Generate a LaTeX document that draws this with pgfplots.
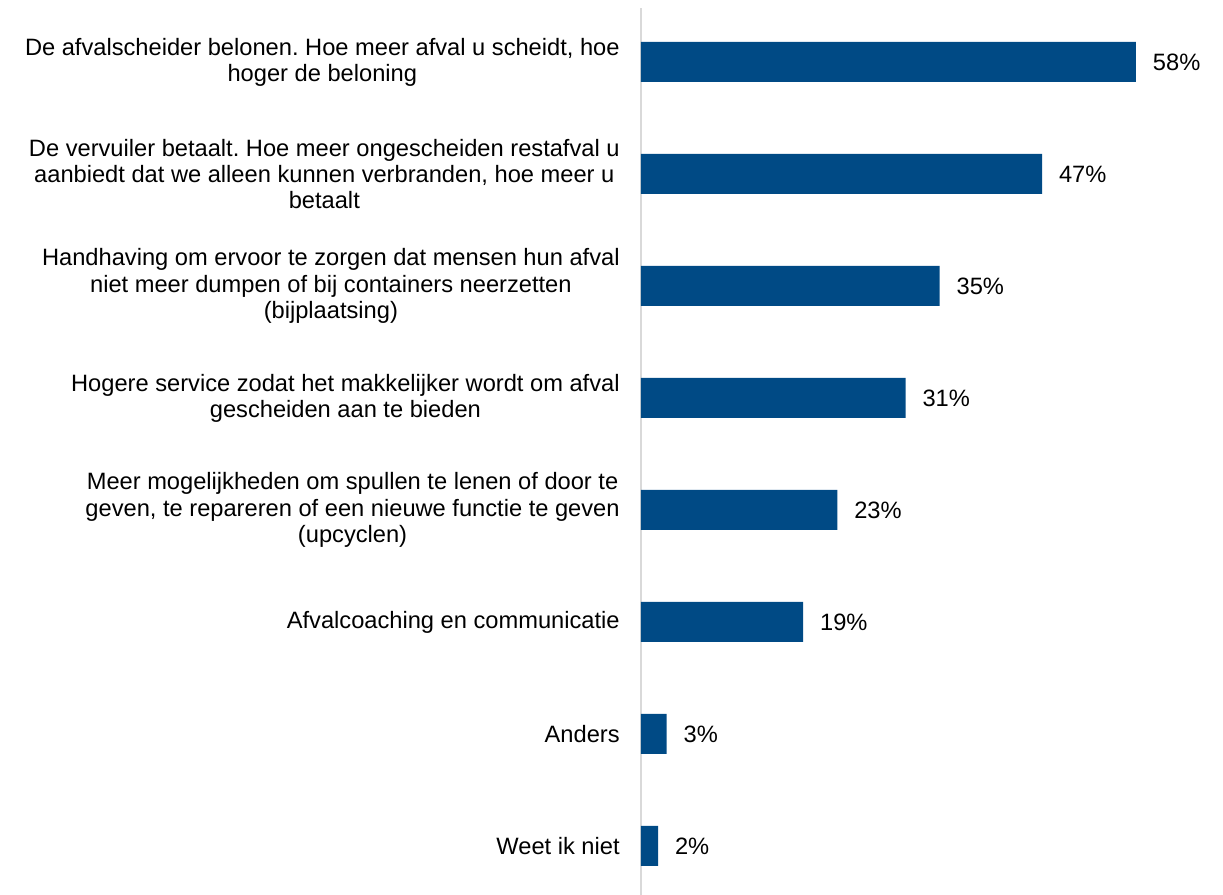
\documentclass[border=0pt]{standalone}
\usepackage{fontspec}
\setmainfont{Liberation Sans}
\usepackage{pgfplots}
\pgfplotsset{compat=1.18}
\definecolor{barblue}{HTML}{004A85}
\definecolor{axgray}{HTML}{D9D9D9}
\frenchspacing
\begin{document}
\begin{tikzpicture}
\useasboundingbox (-384.6pt,4.8pt) rectangle (349.2pt,-532.2pt);
\begin{axis}[
  at={(0,0)}, anchor=north west,
  scale only axis, width=349.2pt, height=532.2pt,
  xbar, bar width=24pt,
  xmin=0, xmax=68.2,
  ymin=-0.482, ymax=7.438, y dir=reverse,
  axis x line=none, axis y line=left,
  y axis line style={draw=axgray, line width=1.2pt, -},
  ytick={0,...,7}, major tick length=0pt,
  yticklabels={
    {De afvalscheider belonen. Hoe meer afval u scheidt, hoe\\hoger de beloning},
    {De vervuiler betaalt. Hoe meer ongescheiden restafval u\\aanbiedt dat we alleen kunnen verbranden, hoe meer u\\betaalt},
    {Handhaving om ervoor te zorgen dat mensen hun afval\\niet meer dumpen of bij containers neerzetten\\(bijplaatsing)},
    {Hogere service zodat het makkelijker wordt om afval\\gescheiden aan te bieden},
    {Meer mogelijkheden om spullen te lenen of door te\\geven, te repareren of een nieuwe functie te geven\\(upcyclen)},
    {Afvalcoaching en communicatie},
    {Anders},
    {Weet ik niet}},
  yticklabel style={align=center, font=\fontsize{14.2}{15.7}\selectfont, inner xsep=0pt, xshift=-12.6pt},
  /pgf/number format/assume math mode=true,
  nodes near coords={\pgfmathprintnumber{\pgfplotspointmeta}\%},
  nodes near coords style={font=\fontsize{14.2}{15.7}\selectfont, anchor=west, xshift=10pt, inner xsep=0pt},
  point meta=x,
  clip=false,
]
\addplot[fill=barblue, draw=none] coordinates {
  (58,0) (47,1) (35,2) (31,3) (23,4) (19,5) (3,6) (2,7)
};
\end{axis}
\end{tikzpicture}
\end{document}
